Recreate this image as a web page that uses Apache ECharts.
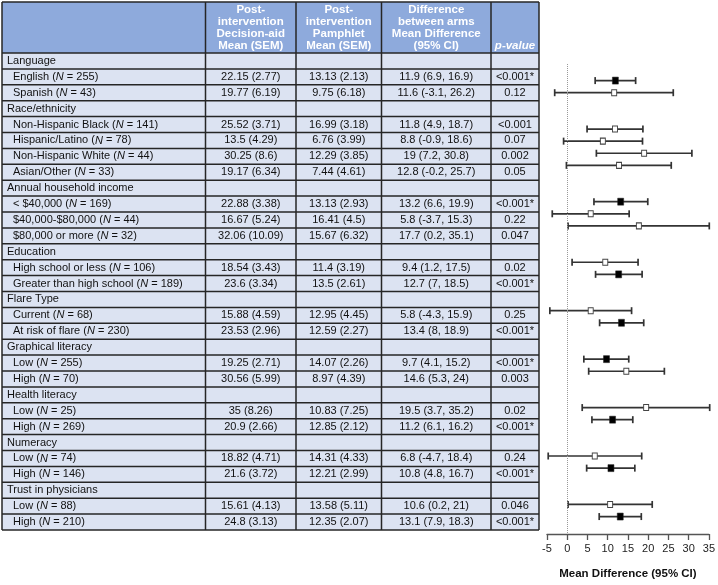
<!DOCTYPE html>
<html>
<head>
<meta charset="utf-8">
<script src="https://cdn.jsdelivr.net/npm/echarts@6/dist/echarts.min.js"></script>
<style>
  html, body { margin: 0; padding: 0; background: #fff; }
  #main { width: 718px; height: 585px; }
</style>
</head>
<body>
<div id="main"></div>
<script>
  // 分组和子组
  var groups = ['Language', 'Race/ethnicity', 'Annual household income', 'Education', 'Flare Type',
    'Graphical literacy', 'Health literacy', 'Numeracy', 'Trust in physicians'];
  var groupSizes = [2, 4, 3, 2, 2, 2, 2, 2, 2];
  var subLabels = ['English', 'Spanish', 'Non-Hispanic Black', 'Hispanic/Latino', 'Non-Hispanic White', 'Asian/Other',
    '< $40,000', '$40,000-$80,000', '$80,000 or more', 'High school or less', 'Greater than high school',
    'Current', 'At risk of flare', 'Low', 'High', 'Low', 'High', 'Low', 'High', 'Low', 'High'];
  var subN = [255, 43, 141, 78, 44, 33, 169, 44, 32, 106, 189, 68, 230, 255, 70, 25, 269, 74, 146, 88, 210];

  // 表格数值
  var aidMean = ['22.15', '19.77', '25.52', '13.5', '30.25', '19.17', '22.88', '16.67', '32.06', '18.54', '23.6',
    '15.88', '23.53', '19.25', '30.56', '35', '20.9', '18.82', '21.6', '15.61', '24.8'];
  var aidSem = ['2.77', '6.19', '3.71', '4.29', '8.6', '6.34', '3.38', '5.24', '10.09', '3.43', '3.34',
    '4.59', '2.96', '2.71', '5.99', '8.26', '2.66', '4.71', '3.72', '4.13', '3.13'];
  var pamMean = ['13.13', '9.75', '16.99', '6.76', '12.29', '7.44', '13.13', '16.41', '15.67', '11.4', '13.5',
    '12.95', '12.59', '14.07', '8.97', '10.83', '12.85', '14.31', '12.21', '13.58', '12.35'];
  var pamSem = ['2.13', '6.18', '3.18', '3.99', '3.85', '4.61', '2.93', '4.5', '6.32', '3.19', '2.61',
    '4.45', '2.27', '2.26', '4.39', '7.25', '2.12', '4.33', '2.99', '5.11', '2.07'];
  var diff = [11.9, 11.6, 11.8, 8.8, 19, 12.8, 13.2, 5.8, 17.7, 9.4, 12.7, 5.8, 13.4, 9.7, 14.6, 19.5, 11.2, 6.8, 10.8, 10.6, 13.1];
  var ciLow = [6.9, -3.1, 4.9, -0.9, 7.2, -0.2, 6.6, -3.7, 0.2, 1.2, 7, -4.3, 8, 4.1, 5.3, 3.7, 6.1, -4.7, 4.8, 0.2, 7.9];
  var ciHigh = [16.9, 26.2, 18.7, 18.6, 30.8, 25.7, 19.9, 15.3, 35.1, 17.5, 18.5, 15.9, 18.9, 15.2, 24, 35.2, 16.2, 18.4, 16.7, 21, 18.3];
  var pValues = ['<0.001*', '0.12', '<0.001', '0.07', '0.002', '0.05', '<0.001*', '0.22', '0.047', '0.02', '<0.001*',
    '0.25', '<0.001*', '<0.001*', '0.003', '0.02', '<0.001*', '0.24', '<0.001*', '0.046', '<0.001*'];

  var headers = ['', 'Post-\nintervention\nDecision-aid\nMean (SEM)', 'Post-\nintervention\nPamphlet\nMean (SEM)',
    'Difference\nbetween arms\nMean Difference\n(95% CI)', 'p-value'];
  var xTicks = [-5, 0, 5, 10, 15, 20, 25, 30, 35];

  // 表格布局
  var colX = [2, 205.5, 296, 381.5, 491, 539];
  var headTop = 2, headBottom = 53, rowH = 15.9;
  var FONT = '"Liberation Sans", Arial, sans-serif';

  var graphics = [];
  var rows = [];
  var k = 0;
  groups.forEach(function (g, gi) {
    rows.push({ type: 'group', label: g });
    for (var j = 0; j < groupSizes[gi]; j++) {
      rows.push({ type: 'item', idx: k, slot: k + 2 * gi });
      k++;
    }
  });

  // 表头
  graphics.push({ type: 'rect', shape: { x: colX[0], y: headTop, width: colX[5] - colX[0], height: headBottom - headTop },
    style: { fill: '#8eaadc' }, z: 1 });
  headers.forEach(function (h, c) {
    if (!h) return;
    graphics.push({ type: 'text', x: (colX[c] + colX[c + 1]) / 2, y: headBottom - 1.5, z: 5,
      style: { text: h, fill: '#fff', font: (c === 4 ? 'italic ' : '') + 'bold 11.5px ' + FONT,
        align: 'center', verticalAlign: 'bottom', lineHeight: 11.8 } });
  });

  // 表体
  var bodyTop = headBottom;
  graphics.push({ type: 'rect', shape: { x: colX[0], y: bodyTop, width: colX[5] - colX[0], height: rows.length * rowH },
    style: { fill: '#dce3f2' }, z: 1 });
  rows.forEach(function (r, i) {
    var yc = bodyTop + rowH * (i + 0.5);
    if (r.type === 'group') {
      graphics.push({ type: 'text', x: 7, y: yc, z: 5,
        style: { text: r.label, fill: '#111', font: '11px ' + FONT, verticalAlign: 'middle' } });
      return;
    }
    var n = r.idx;
    graphics.push({ type: 'text', x: 13, y: yc, z: 5,
      style: { text: '{a|' + subLabels[n] + ' (}{i|N}{a| = ' + subN[n] + ')}', verticalAlign: 'middle',
        rich: { a: { font: '11px ' + FONT, fill: '#111' }, i: { font: 'italic 11px ' + FONT, fill: '#111' } } } });
    var cells = [aidMean[n] + ' (' + aidSem[n] + ')', pamMean[n] + ' (' + pamSem[n] + ')',
      diff[n] + ' (' + ciLow[n] + ', ' + ciHigh[n] + ')', pValues[n]];
    cells.forEach(function (t, c) {
      graphics.push({ type: 'text', x: (colX[c + 1] + colX[c + 2]) / 2, y: yc, z: 5,
        style: { text: t, fill: '#111', font: '11px ' + FONT, align: 'center', verticalAlign: 'middle' } });
    });
  });

  // 网格线
  var tableBottom = bodyTop + rows.length * rowH;
  var lineStyle = { stroke: '#262626', lineWidth: 1.5 };
  for (var i = 0; i <= rows.length; i++) {
    var yy = bodyTop + i * rowH;
    graphics.push({ type: 'line', z: 6, shape: { x1: colX[0], y1: yy, x2: colX[5], y2: yy }, style: lineStyle });
  }
  graphics.push({ type: 'line', z: 6, shape: { x1: colX[0], y1: headTop, x2: colX[5], y2: headTop }, style: lineStyle });
  colX.forEach(function (x) {
    graphics.push({ type: 'line', z: 6, shape: { x1: x, y1: headTop, x2: x, y2: tableBottom }, style: lineStyle });
  });

  // 森林图数据
  var ciData = [], solidPts = [], openPts = [];
  rows.forEach(function (r) {
    if (r.type !== 'item') return;
    var n = r.idx;
    ciData.push([ciLow[n], ciHigh[n], r.slot]);
    if (pValues[n].indexOf('*') >= 0) solidPts.push([diff[n], r.slot]);
    else openPts.push([diff[n], r.slot]);
  });

  var myChart = echarts.init(document.getElementById('main'));
  var option = {
    animation: false,
    graphic: graphics,
    grid: { left: 547, right: 6, top: 64, bottom: 48.3 },
    xAxis: {
      type: 'value', min: -5, max: 35, interval: 5,
      splitLine: { show: false },
      axisLine: { show: true, onZero: false, lineStyle: { color: '#555', width: 1.3 } },
      axisTick: { show: true, inside: false, length: 6, lineStyle: { color: '#555', width: 1.3 } },
      axisLabel: { margin: 9, color: '#222', fontSize: 11, fontFamily: FONT,
        formatter: function (v) { return xTicks.indexOf(v) >= 0 ? String(v) : ''; } },
      name: 'Mean Difference (95% CI)', nameLocation: 'middle', nameGap: 34,
      nameTextStyle: { color: '#111', fontSize: 11.5, fontWeight: 'bold', fontFamily: FONT }
    },
    yAxis: { type: 'value', inverse: true, min: -1.37, max: 37.44, show: false },
    series: [
      {
        type: 'custom', data: ciData, z: 3,
        renderItem: function (params, api) {
          var a = api.coord([api.value(0), api.value(2)]);
          var b = api.coord([api.value(1), api.value(2)]);
          var st = { stroke: '#333', lineWidth: 1.7 };
          return { type: 'group', children: [
            { type: 'line', shape: { x1: a[0], y1: a[1], x2: b[0], y2: b[1] }, style: st },
            { type: 'line', shape: { x1: a[0], y1: a[1] - 3.5, x2: a[0], y2: a[1] + 3.5 }, style: st },
            { type: 'line', shape: { x1: b[0], y1: b[1] - 3.5, x2: b[0], y2: b[1] + 3.5 }, style: st }
          ] };
        }
      },
      {
        type: 'scatter', data: openPts, symbol: 'rect', symbolSize: [5, 6], z: 5,
        itemStyle: { color: '#fff', borderColor: '#444', borderWidth: 1, opacity: 1 },
        markLine: {
          silent: true, symbol: 'none', label: { show: false },
          lineStyle: { color: '#999', type: 'dotted', width: 1 },
          data: [{ xAxis: 0 }]
        }
      },
      {
        type: 'scatter', data: solidPts, symbol: 'rect', symbolSize: [6, 7], z: 5,
        itemStyle: { color: '#000', borderColor: '#222', borderWidth: 0.5, opacity: 1 }
      }
    ]
  };
  myChart.setOption(option);
</script>
</body>
</html>
